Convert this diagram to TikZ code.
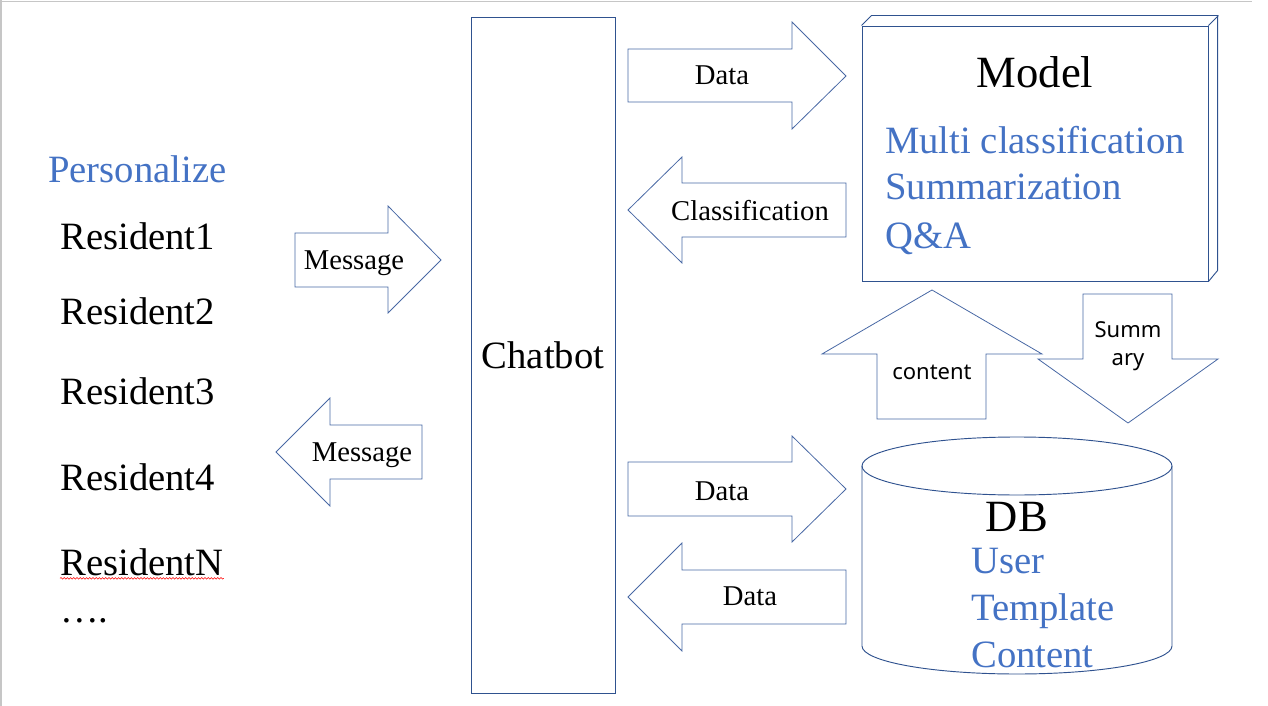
\documentclass[tikz,border=0pt]{standalone}
\usepackage{fontspec}
\setmainfont{Liberation Serif}
\newfontfamily\labelsans{Noto Sans}
\usetikzlibrary{decorations.pathmorphing}
\definecolor{lineblue}{RGB}{47,82,143}
\definecolor{arrowblue}{RGB}{72,104,164}
\definecolor{textblue}{RGB}{68,114,196}
\tikzset{blockarrow/.style={draw=arrowblue, line width=0.6pt, line join=miter},
	boxline/.style={draw=lineblue, line width=0.7pt},
	bigtxt/.style={font=\fontsize{33.5}{40}\selectfont, inner sep=0pt},
	maintxt/.style={font=\fontsize{29}{35}\selectfont, inner sep=0pt},
	bluetxt/.style={maintxt, text=textblue},
	arrowtxt/.style={font=\fontsize{21.5}{26}\selectfont, inner sep=0pt},
	sanstxt/.style={font=\labelsans\fontsize{16.5}{20}\selectfont, inner sep=0pt}}

\begin{document}
\begin{tikzpicture}[x=0.75pt,y=-0.75pt]
		\useasboundingbox (0,0) rectangle (1268,706);
		\draw[gray!45, line width=1.1pt] (0,1.5) -- (1252,1.5); %slide edge
		\draw[gray!45, line width=1.1pt] (1,0) -- (1,706);
		% residents
		\node[bluetxt, anchor=base west] (personalize) at (48,183) {Personalize};
		\foreach \n/\y in {1/249.5, 2/324.5, 3/404.5, 4/490.5}
		\node[maintxt, anchor=base west] (resident\n) at (60,\y) {Resident\n};
		\node[maintxt, anchor=base west] (residentN) at (60,575) {ResidentN};
		\draw[red, line width=0.4pt, decorate, decoration={snake, amplitude=0.6pt, segment length=2.4pt}]
			([yshift=-2.5pt]residentN.base west) -- ([yshift=-2.5pt]residentN.base east); %spell check line
		\node[maintxt, anchor=base west] (moredots) at (60,622) {….};
		% message arrows
		\draw[blockarrow] (295,233) -- (388,233) -- (388,206) -- (441,260) -- (388,313) -- (388,287) -- (295,287) -- cycle;
		\node[arrowtxt, anchor=base] (msgin) at (354,270) {Message};
		\draw[blockarrow] (422,425) -- (330,425) -- (330,398) -- (276,452) -- (330,506) -- (330,479) -- (422,479) -- cycle;
		\node[arrowtxt, anchor=base] (msgout) at (362,461.5) {Message};
		% chatbot
		\node[boxline, minimum width=108pt, minimum height=507pt, inner sep=0pt] (chatbot) at (543,355) {};
		\node[maintxt] (chatbotlabel) at (chatbot.center) {Chatbot};
		% model cube
		\node[boxline, minimum width=259.5pt, minimum height=191.25pt, inner sep=0pt] (modelbox) at (1035,153.5) {};
		\draw[boxline, line join=miter] (modelbox.north west) -- ++(10,-10) -- ++(346,0) -- ++(0,255) -- (modelbox.south east);
		\draw[boxline] (modelbox.north east) -- ++(10,-10);
		\node[bigtxt, anchor=base] (modeltitle) at (1035,88) {Model};
		\node[bluetxt, anchor=base west] (multiclass) at (885,154) {Multi classification};
		\node[bluetxt, anchor=base west] (summarize) at (885,200) {Summarization};
		\node[bluetxt, anchor=base west] (qna) at (885,248) {Q\&A};
		% chatbot <-> model
		\draw[blockarrow] (628,49) -- (792,49) -- (792,22) -- (846,76) -- (792,129) -- (792,102) -- (628,102) -- cycle;
		\node[arrowtxt, anchor=base] (datatomodel) at (722,85) {Data};
		\draw[blockarrow] (846,183) -- (682,183) -- (682,157) -- (628,210) -- (682,263) -- (682,237) -- (846,237) -- cycle;
		\node[arrowtxt, anchor=base] (classback) at (750,220.5) {Classification};
		% model <-> db
		\draw[blockarrow] (877,419) -- (877,354) -- (822,354) -- (932,290) -- (1042,354) -- (986,354) -- (986,419) -- cycle;
		\node[sanstxt, anchor=base] (contentup) at (932,379) {content};
		\draw[blockarrow] (1083,294) -- (1172,294) -- (1172,359) -- (1218,359) -- (1128,423) -- (1038,359) -- (1083,359) -- cycle;
		\node[sanstxt, anchor=base] (summdown) at (1128,337) {Summ};
		\node[sanstxt, anchor=base] (arydown) at (1128,365) {ary};
		% db cylinder
		\draw[boxline] (862,466) -- (862,646) arc[start angle=180, end angle=0, x radius=155, y radius=28] -- (1172,466);
		\draw[boxline] (1017,466) ellipse [x radius=155, y radius=29];
		\node[bigtxt, anchor=base] (dbtitle) at (1017,531) {DB};
		\node[bluetxt, anchor=base west] (dbuser) at (971,573) {User};
		\node[bluetxt, anchor=base west] (dbtemplate) at (971,620) {Template};
		\node[bluetxt, anchor=base west] (dbcontent) at (971,667) {Content};
		% chatbot <-> db
		\draw[blockarrow] (628,462) -- (792,462) -- (792,436) -- (846,489) -- (792,542) -- (792,516) -- (628,516) -- cycle;
		\node[arrowtxt, anchor=base] (datatodb) at (722,500) {Data};
		\draw[blockarrow] (846,570) -- (682,570) -- (682,543) -- (628,597) -- (682,651) -- (682,624) -- (846,624) -- cycle;
		\node[arrowtxt, anchor=base] (datafromdb) at (750,605) {Data};
	\end{tikzpicture}
\end{document}
